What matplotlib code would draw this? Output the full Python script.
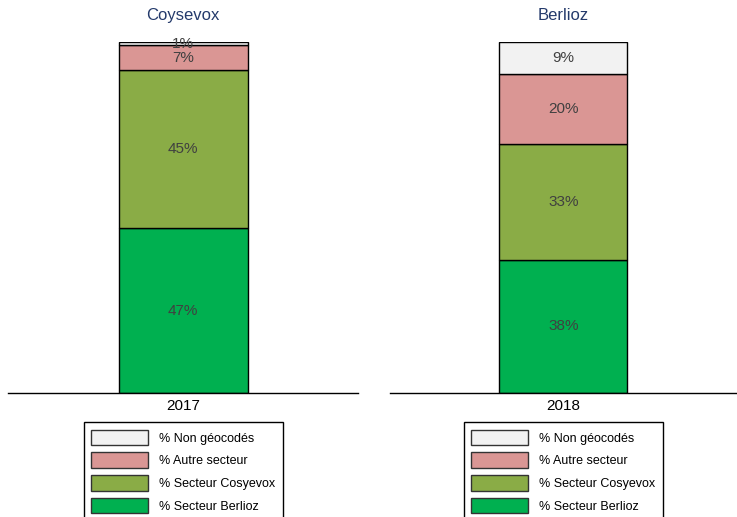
import matplotlib.pyplot as plt
from matplotlib.patches import Patch

plt.rcParams['font.family'] = ['Liberation Sans', 'DejaVu Sans']

titles = ['Coysevox', 'Berlioz']
years = ['2017', '2018']
series = ['% Secteur Berlioz', '% Secteur Cosyevox', '% Autre secteur', '% Non géocodés']
values = {
    'Coysevox': [47, 45, 7, 1],
    'Berlioz': [38, 33, 20, 9],
}
colors = ['#00B050', '#8AAC46', '#DA9694', '#F2F2F2']

fig = plt.figure(figsize=(7.37, 5.17), dpi=100)
positions = [[0.011, 0.2398, 0.475, 0.679], [0.529, 0.2398, 0.471, 0.679]]

for pos, title, year in zip(positions, titles, years):
    ax = fig.add_axes(pos)
    bottom = 0
    for v, c in zip(values[title], colors):
        ax.bar(0, v, width=0.369, bottom=bottom, color=c, edgecolor='black', linewidth=1)
        ax.text(0, bottom + v / 2, f'{v}%', ha='center', va='center', fontsize=11, color='#404040')
        bottom += v
    ax.set_xlim(-0.5, 0.5)
    ax.set_ylim(0, 100)
    ax.set_xticks([0])
    ax.set_xticklabels([year], fontsize=11)
    ax.tick_params(axis='x', length=0, pad=4)
    ax.set_yticks([])
    for s in ['left', 'right', 'top']:
        ax.spines[s].set_visible(False)
    ax.spines['bottom'].set_linewidth(1)
    ax.set_title(title, fontsize=12, color='#243A6B', pad=16)
    handles = [Patch(facecolor=c, edgecolor='#333333', label=l) for c, l in zip(colors, series)][::-1]
    leg = ax.legend(handles=handles, loc='upper center', bbox_to_anchor=(0.5, -0.083),
                    fontsize=9, handlelength=4.56, handleheight=1.55, labelspacing=0.56,
                    handletextpad=0.88, borderpad=0.6, borderaxespad=0, fancybox=False,
                    framealpha=1, edgecolor='black')
    leg.get_frame().set_linewidth(1)

fig.savefig('out.png', dpi=100)
